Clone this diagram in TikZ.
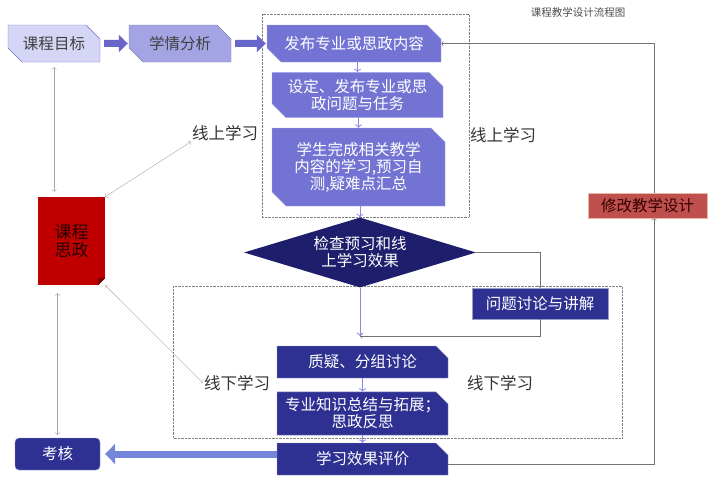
\documentclass[tikz,border=0pt]{standalone}
\usepackage{fontspec}
\setmainfont{Noto Sans CJK SC}
\usepackage{tikz}
\usetikzlibrary{shapes.misc,shapes.geometric,arrows.meta,positioning}
\definecolor{goalfill}{HTML}{D5D5F5}
\definecolor{goaldraw}{HTML}{6E6ECE}
\definecolor{anafill}{HTML}{A4A4E4}
\definecolor{onfill}{HTML}{7373D3}
\definecolor{ondraw}{HTML}{A8A8EC}
\definecolor{navy}{HTML}{1E1E6C}
\definecolor{offfill}{HTML}{2E3192}
\definecolor{offdraw}{HTML}{9A9CCC}
\definecolor{thinkred}{HTML}{C00000}
\definecolor{foldred}{HTML}{7A0000}
\definecolor{revfill}{HTML}{C0504D}
\definecolor{revdraw}{HTML}{E6B9A6}
\definecolor{bandblue}{HTML}{6767C9}
\definecolor{evalblue}{HTML}{7585D9}
\definecolor{flowblue}{HTML}{8A8AE6}
\tikzset{
	box/.style={align=center, inner sep=0pt, font=\fontsize{15.5}{17}\selectfont},
	snip2/.style={box, chamfered rectangle, chamfered rectangle corners={north east,south west}, chamfered rectangle xsep=7pt, chamfered rectangle ysep=7pt},
	snip1/.style={box, chamfered rectangle, chamfered rectangle corners=north east, chamfered rectangle xsep=6pt, chamfered rectangle ysep=6pt},
	online/.style={snip2, fill=onfill, draw=ondraw, text=white},
	offline/.style={snip1, fill=offfill, draw=offdraw, text=white},
	part/.style={font=\fontsize{16.5}{18}\selectfont, inner sep=1pt, text=black!80},
	flow/.style={draw=flowblue, thick, ->},
	link/.style={draw=gray!90!black, ->},
	both/.style={draw=gray!70, <->},
	band/.style={draw=bandblue, line width=7pt, -{Triangle[length=9pt,width=17pt]}},
	area/.style={draw=gray, densely dotted}
}

\begin{document}
\begin{tikzpicture}[x=1pt, y=-1pt]
	\useasboundingbox (0,0) rectangle (709,479);
	\node[font=\fontsize{10.5}{12}\selectfont, text=black!70] (title) at (578,12) {课程教学设计流程图};
	
	% dotted areas
	\draw[area] (262,14) rectangle (469,217);
	\draw[area] (173,286) rectangle (622,438);
	
	\node[snip2, fill=goalfill, draw=goaldraw, text=black!75, minimum width=92pt, minimum height=37pt] (goal) at (54,43.5) {课程目标};
	\node[snip2, fill=anafill, draw=anafill!80!black, text=black!75, minimum width=102pt, minimum height=37pt] (analysis) at (180,43.5) {学情分析};
	\node[online, minimum width=174pt, minimum height=37pt] (publish) at (354,43.5) {发布专业或思政内容};
	\node[online, minimum width=171pt, minimum height=36pt] (task) at (357.5,95) {设定、发布专业或思\\政问题与任务};
	\node[online, minimum width=173pt, minimum height=78pt] (study) at (358.5,167) {学生完成相关教学\\内容的学习,预习自\\测,疑难点汇总};
	\node[diamond, shape aspect=3.3, fill=navy, text=white, minimum width=232pt, minimum height=70pt, inner sep=0pt, align=center, font=\fontsize{15.5}{17}\selectfont] (check) at (360,252.5) {检查预习和线\\上学习效果};
	\node[box, rectangle, fill=offfill, draw=offdraw, text=white, minimum width=136pt, minimum height=31pt] (discuss) at (540,303.5) {问题讨论与讲解};
	\coordinate (merge) at (360,336);
	\node[offline, minimum width=171pt, minimum height=32pt] (question) at (362.5,362) {质疑、分组讨论};
	\node[offline, minimum width=171pt, minimum height=37pt] (summary) at (362.5,413.5) {专业知识总结与拓展；\\思政反思};
	\node[offline, minimum width=171pt, minimum height=32pt] (evaluate) at (362.5,459) {学习效果评价};
	\node[box, fill=offfill, draw=offdraw, rounded corners=4pt, text=white, minimum width=85pt, minimum height=32pt] (exam) at (57.5,454) {考核};
	\node[box, fill=revfill, draw=revdraw, text=black!80!red, minimum width=119pt, minimum height=25pt] (revise) at (647.5,205.5) {修改教学设计};
	\node[align=center, inner sep=0pt, fill=thinkred, text=black!85!red, minimum width=67pt, minimum height=88pt, font=\fontsize{17}{18.5}\selectfont] (sizheng) at (71.5,241) {课程\\思政};
	\fill[white] (sizheng.south east) -- ++(-7,0) -- ++(7,-7) -- cycle;
	\fill[foldred] (sizheng.south east) ++(-7,0) -- ++(0,-7) -- ++(7,0) -- cycle;
	
	\node[part] (onlineL) at (225,133) {线上学习};
	\node[part] (onlineR) at (503,135) {线上学习};
	\node[part] (offlineL) at (237,383) {线下学习};
	\node[part] (offlineR) at (500,383) {线下学习};
	
	% main flow
	\draw[band, shorten <=4pt, shorten >=1pt] (goal) -- (analysis);
	\draw[band, shorten <=4pt, shorten >=1pt] (analysis) -- (publish);
	\draw[flow] (publish.south -| task.north) -- (task.north);
	\draw[flow] (task.south -| study.north) -- (study.north);
	\draw[flow] (study.south -| check.north) -- (check.north);
	\draw[flow] (check.south) -- (merge);
	\draw[link] (check.east) -| (discuss.north);
	\draw[link] (discuss.south) |- (merge);
	\draw[flow] (question) -- (summary);
	\draw[flow] (summary) -- (evaluate);
	\draw[draw=evalblue, line width=7pt, shorten >=5pt, -{Triangle[length=10pt,width=20pt]}] (evaluate.west |- exam.east) -- (exam.east);
	
	% feedback loop
	\coordinate (turn) at (654,464);
	\draw[link] (evaluate.east |- turn) -- (turn) -- (turn |- revise.south);
	\draw[link] (turn |- revise.north) |- (publish.east);
	
	% course ideology links
	\draw[both, shorten <=5pt, shorten >=5pt] (goal.south) -- (goal.south |- sizheng.north);
	\draw[both] (sizheng.north east) -- (onlineL.south west);
	\draw[both] (sizheng.south east) -- (offlineL.west);
	\draw[both, shorten <=8pt, shorten >=3pt] (sizheng.south -| exam.north) -- (exam.north);
\end{tikzpicture}
\end{document}
